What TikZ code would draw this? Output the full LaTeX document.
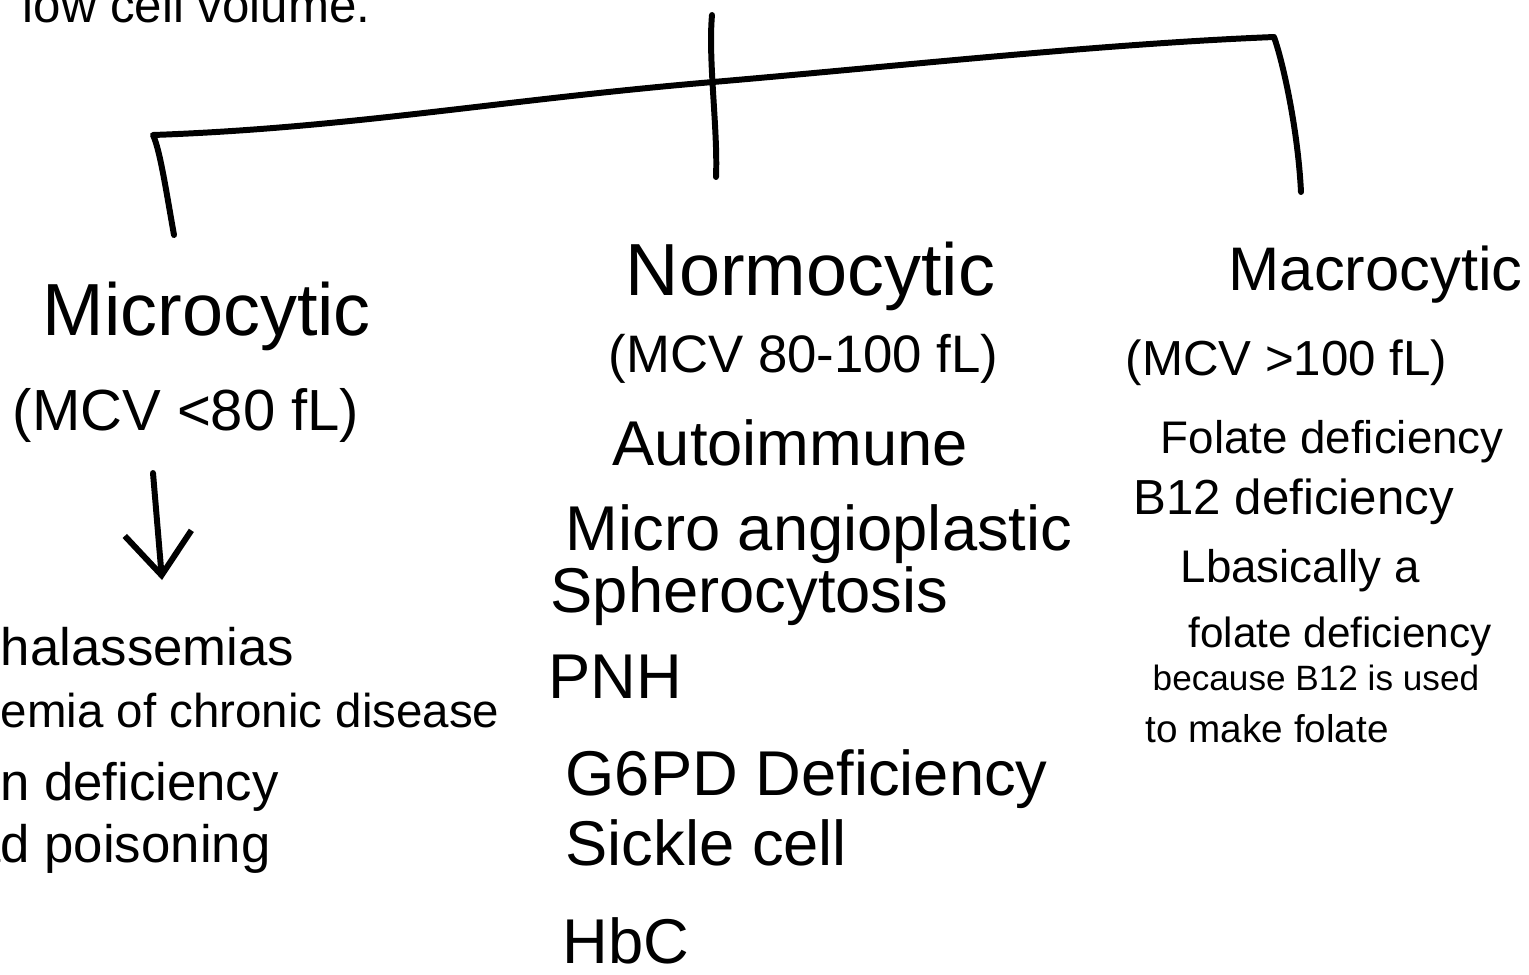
\documentclass[tikz,border=0pt]{standalone}
\usepackage{fontspec}
\setmainfont{Liberation Sans}
\usetikzlibrary{arrows.meta}

\tikzset{
	pen/.style={line width=1.7pt, line cap=round, line join=round},
	txt/.style={anchor=base west, inner sep=0pt},
	title/.style={txt, font=\fontsize{21}{25}\selectfont},
	mcvtext/.style={txt, font=\fontsize{15}{18}\selectfont},
	cause/.style={txt, font=\fontsize{18}{22}\selectfont},
	leftcause/.style={txt, font=\fontsize{15}{18}\selectfont},
	note/.style={txt, font=\fontsize{13}{16}\selectfont}
}

\begin{document}
\begin{tikzpicture}[x=0.01cm, y=-0.01cm]

	%//frame in pixels of the page, y going down
	\useasboundingbox (0,0) rectangle (1529,975);
	\clip (0,0) rectangle (1529,975);

	\node [txt, font=\fontsize{14}{17}\selectfont] (lowvol) at (22,22) {low cell volume.};

	%//tree
	\coordinate (stemtop) at (712,15);
	\coordinate (stembot) at (716,177);
	\coordinate (hub) at (713,82);
	\coordinate (lcorner) at (153,135);
	\coordinate (rcorner) at (1274,37);
	\coordinate (microend) at (174,235);
	\coordinate (macroend) at (1301,192);

	\draw [pen] (stemtop) .. controls (708,60) and (718,130) .. (stembot);
	\draw [pen] (microend) .. controls (166,190) and (160,150) .. (lcorner)
		.. controls (350,128) and (500,100) .. (hub)
		.. controls (900,66) and (1100,44) .. (rcorner)
		.. controls (1283,62) and (1298,130) .. (macroend);

	%//three groups
	\node [title] (micro) at (42,335) {Microcytic};
	\node [mcvtext, font=\fontsize{16.5}{20}\selectfont] (mcvmicro) at (12,430) {(MCV <80 fL)};

	\node [title] (normo) at (625,295) {Normocytic};
	\node [mcvtext] (mcvnormo) at (608,372) {(MCV 80-100 fL)};

	\node [title, font=\fontsize{17.5}{21}\selectfont] (macro) at (1228,290) {Macrocytic};
	\node [mcvtext, font=\fontsize{14}{17}\selectfont] (mcvmacro) at (1125,375) {(MCV >100 fL)};

	%//microcytic causes
	\coordinate (arrowtop) at (153,473);
	\coordinate (arrowtip) at (162,580);
	\draw [pen, -{Straight Barb[length=12pt, width=19pt, line width=1.7pt]}] (arrowtop) -- (arrowtip);

	\foreach \x/\y/\fs/\val [count=\i] in {-32/665/15/Thalassemias, -58/727/13.5/Anemia of chronic disease, -62/800/15/Iron deficiency, -88/862/15/Lead poisoning}
	\node [leftcause, font=\fontsize{\fs}{18}\selectfont] (microitem\i) at (\x,\y) {\val};

	%//normocytic causes
	\foreach \x/\y/\val [count=\i] in {612/465/Autoimmune, 565/550/Micro angioplastic, 550/612/Spherocytosis, 548/698/PNH, 565/795/G6PD Deficiency, 565/865/Sickle cell, 562/963/HbC}
	\node [cause] (normoitem\i) at (\x,\y) {\val};

	%//macrocytic causes
	\node [note] (folate) at (1160,453) {Folate deficiency};
	\node [note, font=\fontsize{14}{17}\selectfont] (bdef) at (1133,514) {B12 deficiency};
	\node [note] (basic) at (1180,582) {Lbasically a};
	\node [note, font=\fontsize{12}{15}\selectfont] (folate2) at (1188,647) {folate deficiency};
	\node [note, font=\fontsize{10}{12}\selectfont] (because) at (1152,690) {because B12 is used};
	\node [note, font=\fontsize{11}{13}\selectfont] (make) at (1145,742) {to make folate};

\end{tikzpicture}
\end{document}
